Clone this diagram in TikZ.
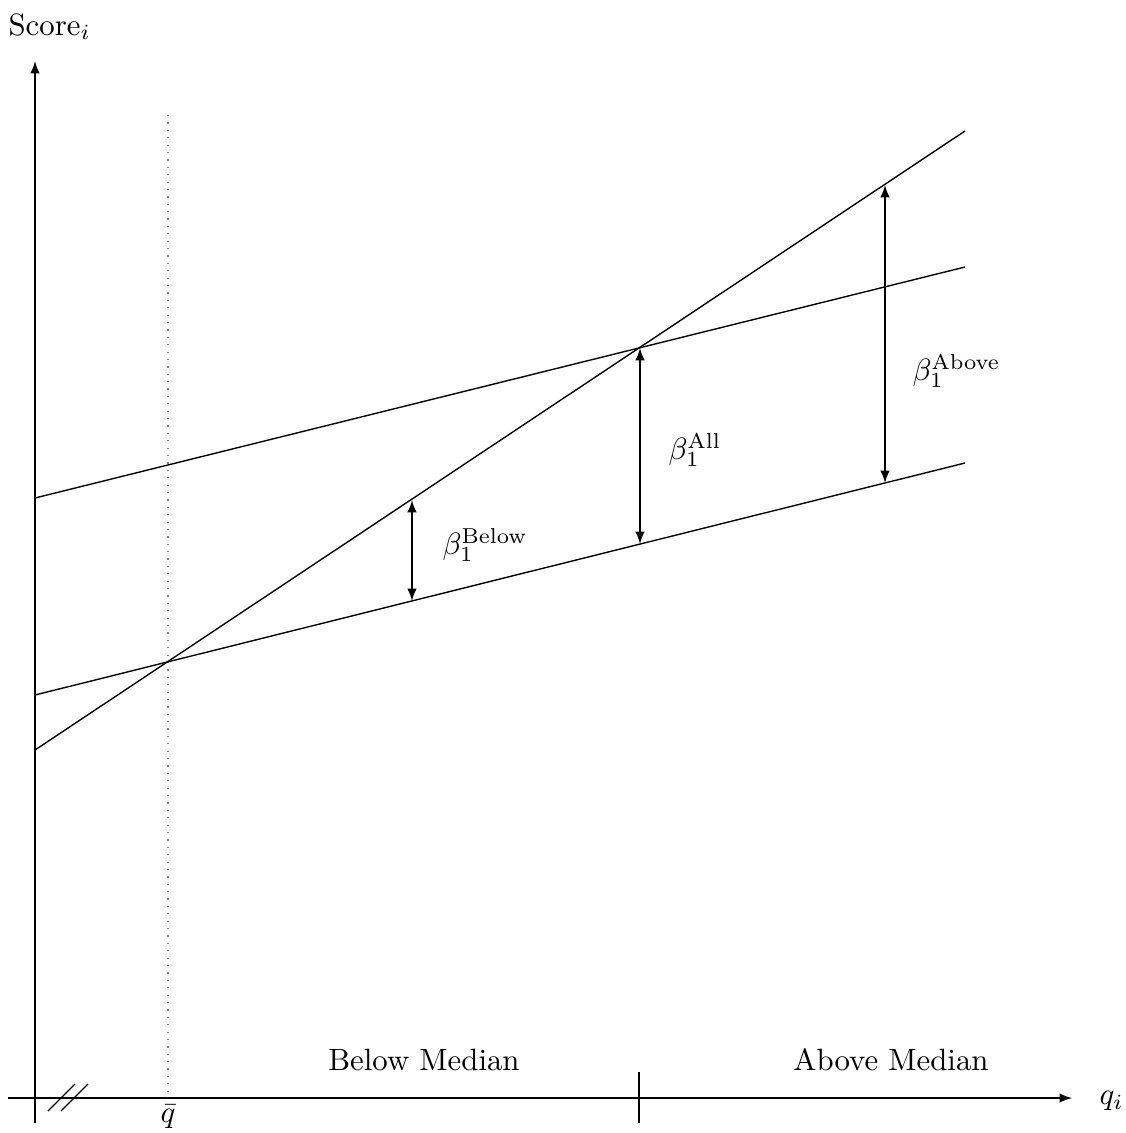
\documentclass[tikz,border=0pt]{standalone}
\usetikzlibrary{arrows}
\begin{document}
\begin{tikzpicture}[x=0.3247pt,y=-0.3247pt,
  axis/.style={-latex, line width=0.4pt},
  regline/.style={line width=0.45pt},
  gap/.style={latex-latex, line width=0.4pt},
  lbl/.style={inner sep=0pt}]
\useasboundingbox (0,0) rectangle (1126,1133);
% axes
\coordinate (ybot) at (35,1123);
\coordinate (ytop) at (35,61);
\coordinate (xleft) at (8,1098);
\coordinate (xright) at (1072,1098);
\draw[axis] (ybot) -- (ytop);
\draw[axis] (xleft) -- (xright);
\node[lbl, anchor=base west] (ylab) at (8,35) {Score$_i$};
\node[lbl, anchor=west] (xlab) at (1099,1101) {$q_i$};
% break marks
\coordinate (b1a) at (48,1111); \coordinate (b1b) at (75,1084);
\coordinate (b2a) at (61,1111); \coordinate (b2b) at (88,1084);
\draw (b1a) -- (b1b);
\draw (b2a) -- (b2b);
% qbar dotted
\coordinate (qtop) at (168,115);
\coordinate (qbot) at (168,1098);
\draw[dotted, gray, line width=0.4pt] (qtop) -- (qbot);
\node[lbl, anchor=north] (qbar) at (168,1104) {$\bar q$};
% median tick
\coordinate (mtop) at (639,1072);
\coordinate (mbot) at (639,1123);
\draw (mtop) -- (mbot);
\node (below) at (424,1060) {Below Median};
\node (above) at (891,1060) {Above Median};
% regression lines
\coordinate (A0) at (35,498); \coordinate (A1) at (965,267);
\coordinate (B0) at (35,695); \coordinate (B1) at (965,463);
\coordinate (C0) at (35,750); \coordinate (C1) at (965,131);
\draw[regline] (A0) -- (A1);
\draw[regline] (B0) -- (B1);
\draw[regline] (C0) -- (C1);
% gaps
\coordinate (g1t) at (412,500); \coordinate (g1b) at (412,601);
\coordinate (g2t) at (640,348); \coordinate (g2b) at (640,544);
\coordinate (g3t) at (885,185); \coordinate (g3b) at (885,483);
\draw[gap] (g1t) -- (g1b);
\draw[gap] (g2t) -- (g2b);
\draw[gap] (g3t) -- (g3b);
\node[lbl, anchor=west] (lb1) at (442,545) {$\beta_1^{\mathrm{Below}}$};
\node[lbl, anchor=west] (lb2) at (668,450) {$\beta_1^{\mathrm{All}}$};
\node[lbl, anchor=west] (lb3) at (912,371) {$\beta_1^{\mathrm{Above}}$};
\end{tikzpicture}
\end{document}
